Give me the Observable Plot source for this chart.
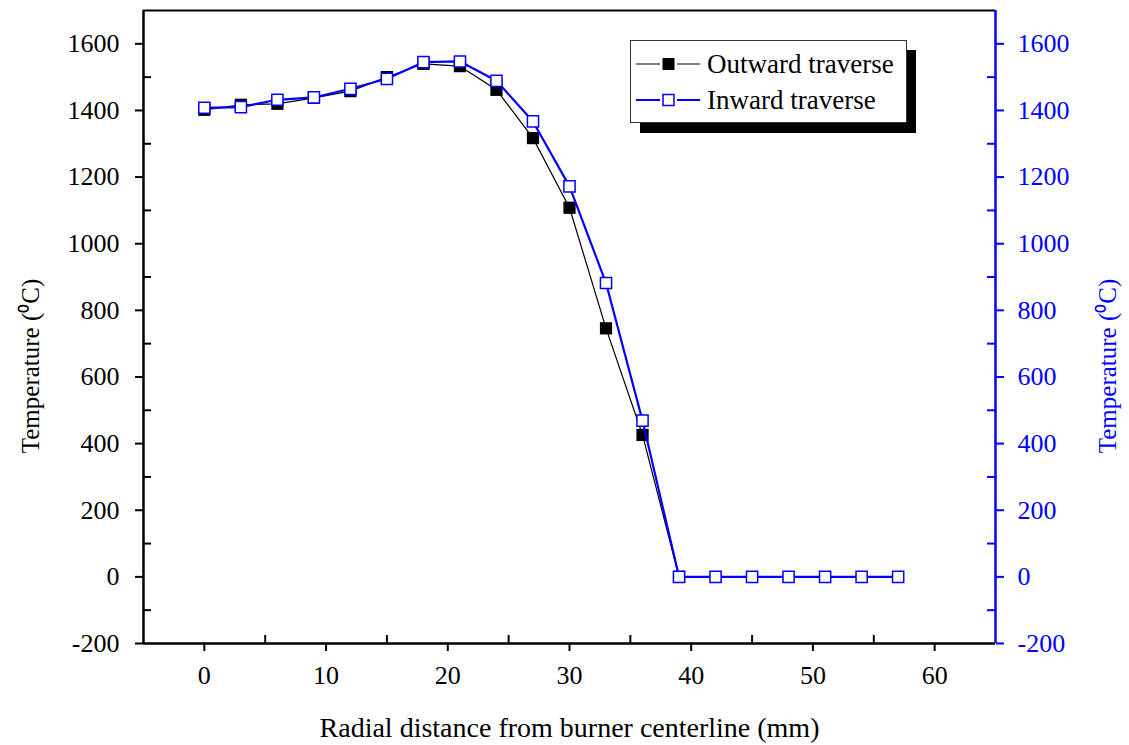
<!DOCTYPE html>
<html><head><meta charset="utf-8">
<script src="https://cdn.jsdelivr.net/npm/d3@7"></script>
<script src="https://cdn.jsdelivr.net/npm/@observablehq/plot@0.6"></script>
<style>
body{margin:0;background:#fff}
svg, svg text{font-family:'Liberation Serif','Times New Roman',serif !important; font-variant-numeric: normal !important}
</style>
</head><body><div id="chart"></div>
<script>
const outwardX = [0,3,6,9,12,15,18,21,24,27,30,33,36,39];
const outwardT = [1402,1417,1420,1438,1458,1500,1540,1533,1462,1317,1108,746,426,0];
const inwardX = [0,3,6,9,12,15,18,21,24,27,30,33,36,39,42,45,48,51,54,57];
const inwardT = [1408,1410,1432,1439,1465,1495,1545,1547,1489,1367,1172,882,469,0,0,0,0,0,0,0];
const xTicks = [0,10,20,30,40,50,60];
const xMinor = [5,15,25,35,45,55];
const yTicks = [-200,0,200,400,600,800,1000,1200,1400,1600];
const yMinor = [-100,100,300,500,700,900,1100,1300,1500];
const seriesNames = ["Outward traverse","Inward traverse"];
const xTitle = "Radial distance from burner centerline (mm)";
const yTitle = "Temperature (\u2070C)";

const W = 1129, H = 745, mL = 143, mR = 134, mT = 10, mB = 102;
const fw = W - mL - mR, fh = H - mT - mB;
const outData = outwardX.map((x, i) => ({x, t: outwardT[i]}));
const inData = inwardX.map((x, i) => ({x, t: inwardT[i]}));
const font = "'Liberation Serif', 'Times New Roman', serif";

const chart = Plot.plot({
  width: W, height: H,
  marginLeft: mL, marginRight: mR, marginTop: mT, marginBottom: mB,
  style: `font-family: ${font}; font-size: 26px; background: white; color: black; overflow: visible;`,
  x: {domain: [-5, 65]},
  y: {domain: [-200, 1700]},
  marks: [
    Plot.axisX({anchor: "bottom", ticks: xTicks, tickSize: 8, tickPadding: 14, strokeWidth: 2, fontSize: 26, label: null, tickFormat: d => String(d)}),
    Plot.ruleX(xMinor, {x: d => d, insetTop: fh - 8, strokeWidth: 2}),
    Plot.axisY({anchor: "left", ticks: yTicks, tickSize: 8, tickPadding: 16, strokeWidth: 2, fontSize: 26, label: null, tickFormat: d => String(d)}),
    Plot.ruleY(yMinor, {y: d => d, insetRight: fw - 8, strokeWidth: 2}),
    Plot.axisY({anchor: "right", ticks: yTicks, tickSize: 8, tickPadding: 14, strokeWidth: 2, fontSize: 26, label: null, color: "blue", tickFormat: d => String(d)}),
    Plot.ruleY(yMinor, {y: d => d, insetLeft: fw - 8, strokeWidth: 2, stroke: "blue"}),
    Plot.ruleY([1700], {strokeWidth: 2}),
    Plot.ruleY([-200], {strokeWidth: 2.5}),
    Plot.ruleX([-5], {strokeWidth: 2.5}),
    Plot.ruleX([65], {strokeWidth: 2.5, stroke: "blue"}),
    Plot.line(outData, {x: "x", y: "t", stroke: "black", strokeWidth: 1.2}),
    Plot.dot(outData, {x: "x", y: "t", symbol: "square", r: 6.9, fill: "black", stroke: "none"}),
    Plot.line(inData, {x: "x", y: "t", stroke: "blue", strokeWidth: 2.2}),
    Plot.dot(inData, {x: "x", y: "t", symbol: "square", r: 6.3, fill: "white", stroke: "blue", strokeWidth: 1.5}),
    Plot.text([xTitle], {frameAnchor: "bottom", textAnchor: "middle", lineAnchor: "middle", dy: 85, fontSize: 28, fill: "black"}),
    Plot.text([yTitle], {frameAnchor: "left", textAnchor: "middle", lineAnchor: "middle", rotate: -90, dx: -113, dy: 39, fontSize: 25, fill: "black"}),
    Plot.text([yTitle], {frameAnchor: "right", textAnchor: "middle", lineAnchor: "middle", rotate: -90, dx: 112, dy: 39, fontSize: 25, fill: "blue"})
  ]
});
document.getElementById("chart").appendChild(chart);

// Legend with shadow
const svg = d3.select(chart);
const lg = svg.append("g").attr("font-family", font).attr("font-size", 27).attr("text-anchor", "start");
lg.append("rect").attr("x", 640).attr("y", 50).attr("width", 276).attr("height", 83).attr("fill", "black");
lg.append("rect").attr("x", 630.5).attr("y", 40.5).attr("width", 276).attr("height", 82).attr("fill", "white").attr("stroke", "#333").attr("stroke-width", 1);
const rows = [
  {name: seriesNames[0], y: 64, line: "#555", lw: 1.5, fill: "black", stroke: "none", s: 12},
  {name: seriesNames[1], y: 100, line: "blue", lw: 2, fill: "white", stroke: "blue", s: 11}
];
for (const r of rows) {
  lg.append("line").attr("x1", 636).attr("x2", 660).attr("y1", r.y).attr("y2", r.y).attr("stroke", r.line).attr("stroke-width", r.lw);
  lg.append("line").attr("x1", 677).attr("x2", 700).attr("y1", r.y).attr("y2", r.y).attr("stroke", r.line).attr("stroke-width", r.lw);
  lg.append("rect").attr("x", 668.5 - r.s / 2).attr("y", r.y - r.s / 2).attr("width", r.s).attr("height", r.s)
    .attr("fill", r.fill).attr("stroke", r.stroke).attr("stroke-width", 1.5);
  lg.append("text").attr("x", 707).attr("y", r.y + 9).attr("fill", "black").attr("text-anchor", "start").text(r.name);
}
</script>
</body></html>
